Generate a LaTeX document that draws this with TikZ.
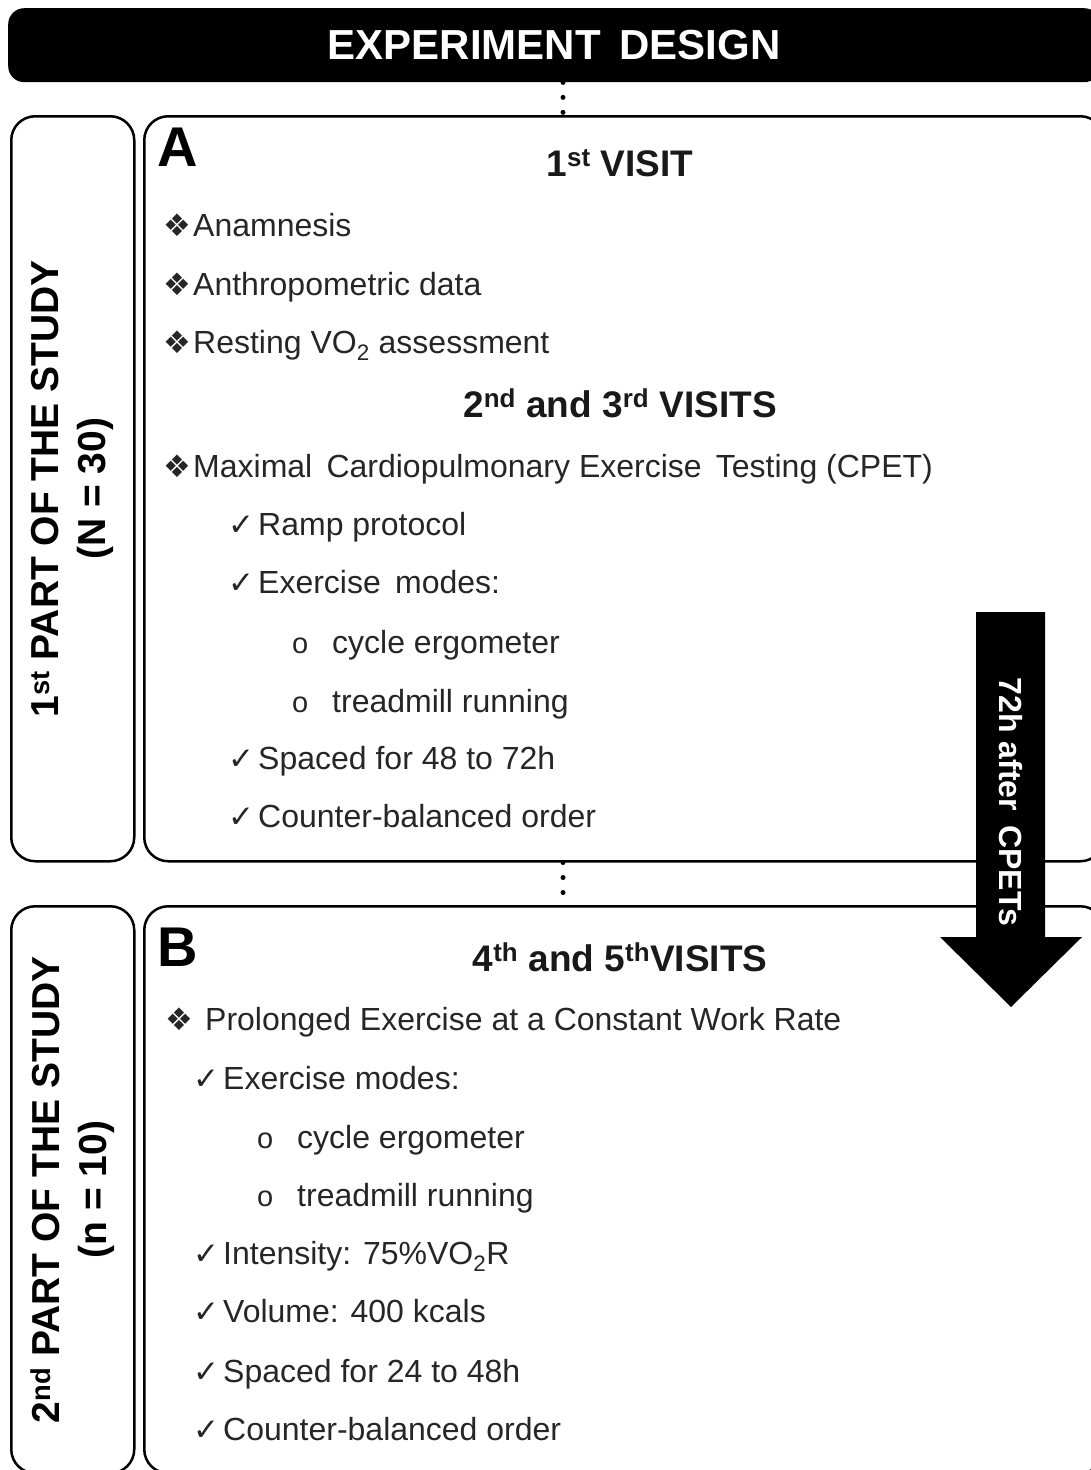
\documentclass[tikz,border=0pt]{standalone}
\usepackage{fontspec}
\setmainfont{Liberation Sans}
\newfontfamily\symfont{DejaVu Sans}
\usetikzlibrary{positioning,calc}

% bullets
\newcommand{\dmd}{\makebox[30pt][l]{{\symfont\fontsize{31}{31}\selectfont\char"2756}}}
\newcommand{\dmdwide}{\makebox[40pt][l]{{\symfont\fontsize{31}{31}\selectfont\char"2756}}}
\newcommand{\chk}{\makebox[30pt][l]{{\symfont\fontsize{31}{31}\selectfont\char"2713}}}
\newcommand{\crc}{\makebox[40pt][l]{{\fontsize{29}{29}\selectfont o}}}

\begin{document}
\begin{tikzpicture}[
    x=1pt, y=-1pt,
    frame/.style={draw, line width=2.5pt, rounded corners=24pt, anchor=north west, inner sep=0pt},
    item/.style={anchor=base west, inner sep=0pt, text=black!85, font=\fontsize{32}{40}\selectfont},
    heading/.style={anchor=base, inner sep=0pt, text=black!90, font=\fontsize{37}{44}\selectfont\bfseries},
    letter/.style={anchor=north west, inner sep=0pt, font=\fontsize{56}{60}\selectfont\bfseries},
    side/.style={rotate=90, align=center, font=\fontsize{39}{47}\selectfont\bfseries},
    dots/.style={line width=5pt, line cap=round, dash pattern=on 0pt off 15pt}
]
    \useasboundingbox (0,0) rectangle (1091,1470);
    \clip (0,0) rectangle (1091,1470);

    % Title bar
    \node[fill=black, rounded corners=16pt, anchor=north west, minimum width=1092pt, minimum height=74pt,
          text=white, font=\fontsize{42}{48}\selectfont\bfseries] (title) at (8,8) {EXPERIMENT\, DESIGN};

    % Frames
    \node[frame, minimum width=123pt, minimum height=745pt] (partone) at (10,115) {};
    \node[frame, minimum width=960pt, minimum height=745pt] (boxA) at (143,115) {};
    \node[frame, minimum width=123pt, minimum height=567pt] (parttwo) at (10,905) {};
    \node[frame, minimum width=960pt, minimum height=567pt] (boxB) at (143,905) {};

    % Side labels
    \node[side] (sideone) at (partone.center) {1\textsuperscript{st} PART OF THE STUDY\\(N = 30)};
    \node[side] (sidetwo) at (parttwo.center) {2\textsuperscript{nd} PART OF THE STUDY\\(n = 10)};

    % Dotted links
    \draw[dots] (title.south -| 563,0) -- (boxA.north -| 563,0);
    \draw[dots] (boxA.south -| 563,0) -- (boxB.north -| 563,0);

    % Part A
    \node[letter] (letA) at (157,128) {A};
    \node[heading] (visit1) at (620,176) {1\textsuperscript{st} VISIT};
    \node[item] (anam) at (163,236) {\dmd Anamnesis};
    \node[item] (anthro) at (163,295) {\dmd Anthropometric data};
    \node[item] (rest) at (163,353) {\dmd Resting VO\textsubscript{2} assessment};
    \node[heading] (visit23) at (620,417) {2\textsuperscript{nd} and 3\textsuperscript{rd} VISITS};
    \node[item] (cpet) at (163,477) {\dmd Maximal\, Cardiopulmonary Exercise\, Testing (CPET)};
    \node[item] (ramp) at (228,535) {\chk Ramp protocol};
    \node[item] (modesA) at (228,593) {\chk Exercise\, modes:};
    \node[item] (cycleA) at (292,653) {\crc cycle ergometer};
    \node[item] (treadA) at (292,712) {\crc treadmill running};
    \node[item] (spaceA) at (228,769) {\chk Spaced for 48 to 72h};
    \node[item] (orderA) at (228,827) {\chk Counter-balanced order};

    % Part B
    \node[letter] (letB) at (157,928) {B};
    \node[heading] (visit45) at (620,971) {4\textsuperscript{th} and 5\textsuperscript{th}VISITS};
    \node[item] (prolong) at (165,1030) {\dmdwide Prolonged Exercise at a Constant Work Rate};
    \node[item] (modesB) at (193,1089) {\chk Exercise modes:};
    \node[item] (cycleB) at (257,1148) {\crc cycle ergometer};
    \node[item] (treadB) at (257,1206) {\crc treadmill running};
    \node[item] (intens) at (193,1264) {\chk Intensity: 75\%VO\textsubscript{2}R};
    \node[item] (volume) at (193,1322) {\chk Volume: 400 kcals};
    \node[item] (spaceB) at (193,1382) {\chk Spaced for 24 to 48h};
    \node[item] (orderB) at (193,1440) {\chk Counter-balanced order};

    % Delay arrow
    \fill (976,612) -- (1045,612) -- (1045,937) -- (1082,937) -- (1011,1007)
          -- (940,937) -- (976,937) -- cycle;
    \node[rotate=-90, text=white, font=\fontsize{32}{38}\selectfont\bfseries] (delay) at (1010.5,802) {72h after\, CPETs};
\end{tikzpicture}
\end{document}
